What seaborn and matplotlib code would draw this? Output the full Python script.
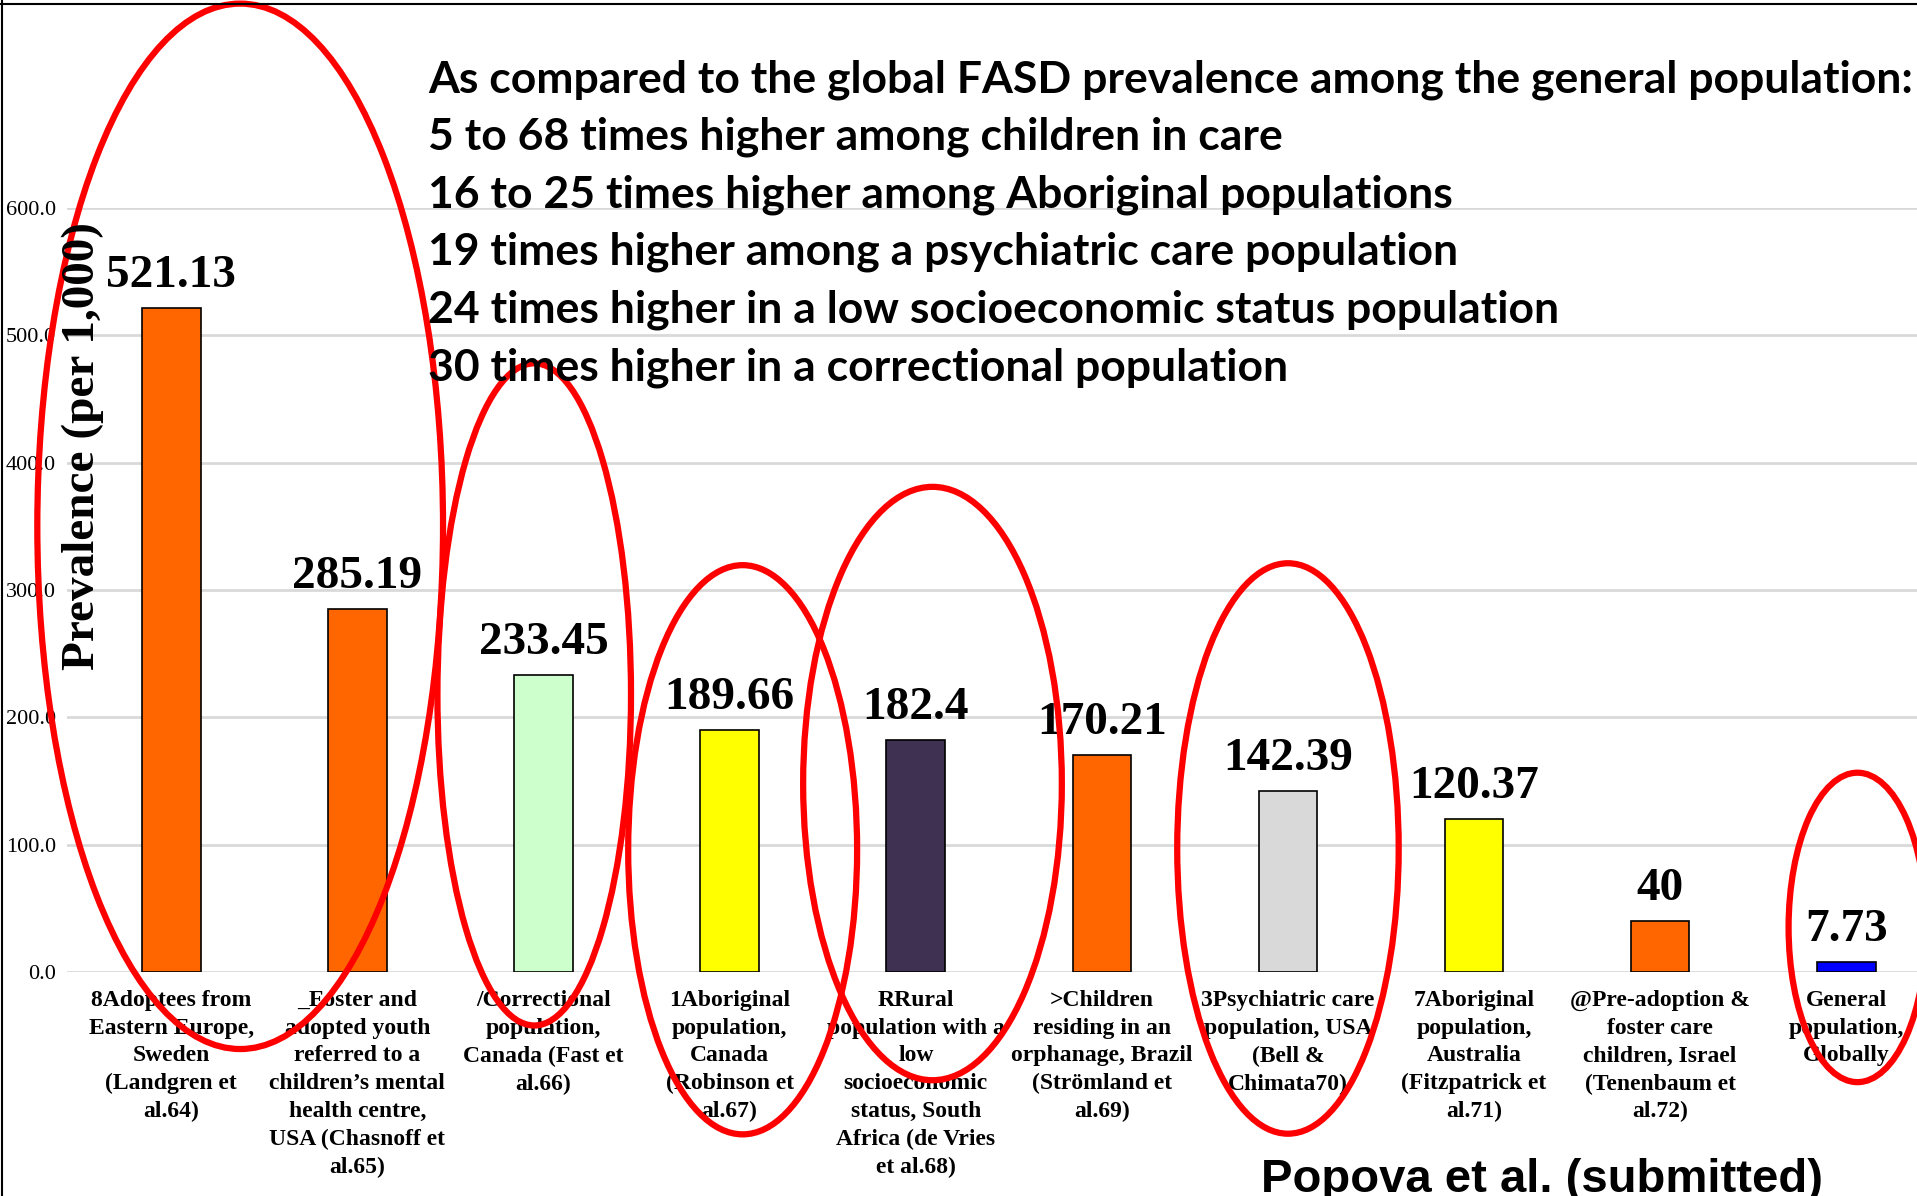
import numpy as np
import pandas as pd
import matplotlib.pyplot as plt
from matplotlib.patches import Ellipse
import seaborn as sns

# Data
categories = [
    "8Adoptees from\nEastern Europe,\nSweden\n(Landgren et\nal.64)",
    "_Foster and\nadopted youth\nreferred to a\nchildren\u2019s mental\nhealth centre,\nUSA (Chasnoff et\nal.65)",
    "/Correctional\npopulation,\nCanada (Fast et\nal.66)",
    "1Aboriginal\npopulation,\nCanada\n(Robinson et\nal.67)",
    "RRural\npopulation with a\nlow\nsocioeconomic\nstatus, South\nAfrica (de Vries\net al.68)",
    ">Children\nresiding in an\norphanage, Brazil\n(Str\u00f6mland et\nal.69)",
    "3Psychiatric care\npopulation, USA\n(Bell &\nChimata70)",
    "7Aboriginal\npopulation,\nAustralia\n(Fitzpatrick et\nal.71)",
    "@Pre-adoption &\nfoster care\nchildren, Israel\n(Tenenbaum et\nal.72)",
    "General\npopulation,\nGlobally",
]
prevalence = [521.13, 285.19, 233.45, 189.66, 182.4, 170.21, 142.39, 120.37, 40, 7.73]
value_text = ["521.13", "285.19", "233.45", "189.66", "182.4", "170.21", "142.39", "120.37", "40", "7.73"]
bar_colors = ["#FF6600", "#FF6600", "#CCFFCC", "#FFFF00", "#3F3151",
              "#FF6600", "#D9D9D9", "#FFFF00", "#FF6600", "#0000FF"]
y_ticks = [0, 100, 200, 300, 400, 500, 600]

headline = [
    "As compared to the global FASD prevalence among the general population:",
    "5 to 68 times higher among children in care",
    "16 to 25 times higher among Aboriginal populations",
    "19 times higher among a psychiatric care population",
    "24 times higher in a low socioeconomic status population",
    "30 times higher in a correctional population",
]

# red highlight ellipses (data units: bar index, prevalence)
ell_x = [0.37, 1.95, 3.07, 4.09, 6.0, 9.06]
ell_y = [350, 218, 96, 148, 97, 35]
ell_w = [2.18, 1.04, 1.23, 1.39, 1.19, 0.74]
ell_h = [821, 520, 447, 466, 448, 243]

df = pd.DataFrame({"category": categories, "prevalence": prevalence})

sns.set_style("white")
plt.rcParams["font.family"] = ["Liberation Serif", "DejaVu Sans"]
plt.rcParams["text.color"] = "black"
plt.rcParams["xtick.color"] = "black"
plt.rcParams["ytick.color"] = "black"

fig = plt.figure(figsize=(19.17, 11.96), dpi=100)
ax = fig.add_axes([0.035, 0.1873, 0.965, 0.6388])

sns.barplot(data=df, x="category", y="prevalence", hue="category",
            palette=bar_colors, saturation=1, legend=False, width=0.315,
            edgecolor="black", linewidth=1.2, ax=ax, zorder=3)

ax.set_xlim(-0.56, 9.38)
ax.set_ylim(0, 600)
ax.set_yticks(y_ticks)
ax.set_yticklabels([f"{v:.1f}" for v in y_ticks], fontsize=16)
ax.yaxis.grid(True, color="#D9D9D9", linewidth=2, zorder=0)
ax.set_axisbelow(True)
for s in ax.spines.values():
    s.set_visible(False)
ax.tick_params(axis="both", length=0)
ax.tick_params(axis="y", pad=8)
ax.tick_params(axis="x", pad=13)
for lab in ax.get_xticklabels():
    lab.set_fontsize(17)
    lab.set_fontweight("bold")
    lab.set_multialignment("center")
    lab.set_linespacing(1.42)
ax.set_xlabel("")
ax.set_ylabel("")

# value labels
for i, (v, t) in enumerate(zip(prevalence, value_text)):
    ax.annotate(t, (i, v), xytext=(0, 8), textcoords="offset points",
                ha="center", va="bottom", fontsize=34, fontweight="bold")

# y label drawn inside the plot like the original
fig.text(0.0433, 0.627, "Prevalence (per 1,000)", rotation=90,
         ha="center", va="center", fontsize=34, fontweight="bold")

# red ellipses
for x, y, w, h in zip(ell_x, ell_y, ell_w, ell_h):
    ax.add_patch(Ellipse((x, y), w, h, fill=False, edgecolor="#FF0000",
                         linewidth=4.5, clip_on=False, zorder=5))

# headline text block
for k, line in enumerate(headline):
    fig.text(0.2233, 0.923 - k * 0.04816, line, ha="left", va="baseline",
             fontsize=32, fontweight="bold", family=["Lato", "DejaVu Sans"])

fig.text(0.658, 0.0033, "Popova et al. (submitted)", ha="left", va="baseline",
         fontsize=34, fontweight="bold", family=["Liberation Sans", "DejaVu Sans"])

# frame lines at the top and left edge
fig.add_artist(plt.Line2D([0, 1], [0.9967, 0.9967], color="black", lw=1.5))
fig.add_artist(plt.Line2D([0.0008, 0.0008], [0, 1], color="black", lw=1.5))

fig.savefig("out.png", dpi=100)
